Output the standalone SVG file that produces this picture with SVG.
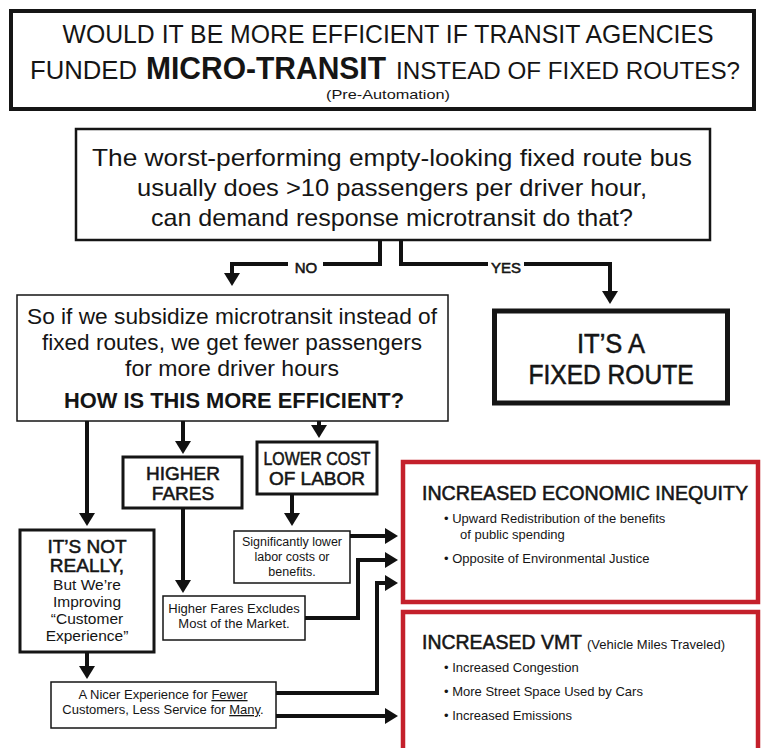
<svg xmlns="http://www.w3.org/2000/svg" width="761" height="748" viewBox="0 0 761 748">
<style>
text{font-family:"Liberation Sans",Arial,sans-serif;fill:#151515}
.c{text-anchor:middle}
.m{stroke:#151515;stroke-width:0.55}
.box{fill:#fff;stroke:#151515}
.red{fill:#fff;stroke:#c4202b;stroke-width:4.5}
.ln{fill:none;stroke:#111;stroke-width:4;stroke-linejoin:miter}
.u{text-decoration:underline}
</style>
<defs>
<marker id="ah" markerUnits="userSpaceOnUse" markerWidth="14" markerHeight="16" viewBox="0 0 14 16" refX="4" refY="8" orient="auto">
<path d="M0,0 L13,8 L0,16 z" fill="#111"/>
</marker>
</defs>
<rect width="761" height="748" fill="#fff"/>

<g id="title">
<rect class="box" x="11" y="11" width="743" height="98" stroke-width="4"/>
<text class="c" x="388" y="43" font-size="26" textLength="651" lengthAdjust="spacingAndGlyphs">WOULD IT BE MORE EFFICIENT IF TRANSIT AGENCIES</text>
<text x="30" y="79" font-size="26" textLength="107" lengthAdjust="spacingAndGlyphs">FUNDED</text>
<text x="146" y="79" font-size="31" font-weight="bold" textLength="240" lengthAdjust="spacingAndGlyphs">MICRO-TRANSIT</text>
<text x="396" y="79" font-size="24" textLength="344" lengthAdjust="spacingAndGlyphs">INSTEAD OF FIXED ROUTES?</text>
<text class="c" x="388" y="99" font-size="13" textLength="124" lengthAdjust="spacingAndGlyphs">(Pre-Automation)</text>
</g>

<g id="question">
<rect class="box" x="76" y="129" width="634" height="111" stroke-width="2.5"/>
<text class="c" x="392" y="166" font-size="24" textLength="600" lengthAdjust="spacingAndGlyphs">The worst-performing empty-looking fixed route bus</text>
<text class="c" x="392" y="196" font-size="24" textLength="510" lengthAdjust="spacingAndGlyphs">usually does &gt;10 passengers per driver hour,</text>
<text class="c" x="392" y="226" font-size="24" textLength="482" lengthAdjust="spacingAndGlyphs">can demand response microtransit do that?</text>
</g>

<g id="so-if">
<rect class="box" x="17" y="295" width="431" height="126" stroke-width="1.5"/>
<text class="c" x="232" y="324" font-size="22" textLength="410" lengthAdjust="spacingAndGlyphs">So if we subsidize microtransit instead of</text>
<text class="c" x="232" y="350" font-size="22" textLength="380" lengthAdjust="spacingAndGlyphs">fixed routes, we get fewer passengers</text>
<text class="c" x="232" y="376" font-size="22" textLength="214" lengthAdjust="spacingAndGlyphs">for more driver hours</text>
<text class="c" x="234" y="408" font-size="22" font-weight="bold" textLength="340" lengthAdjust="spacingAndGlyphs">HOW IS THIS MORE EFFICIENT?</text>
</g>

<g id="fixed-route">
<rect class="box" x="494.5" y="311" width="233" height="92" stroke-width="5"/>
<text class="c m" x="611" y="353" font-size="28" textLength="68" lengthAdjust="spacingAndGlyphs">IT’S A</text>
<text class="c m" x="611" y="384" font-size="28" textLength="165" lengthAdjust="spacingAndGlyphs">FIXED ROUTE</text>
</g>

<g id="not-really">
<rect class="box" x="20" y="530" width="134" height="122" stroke-width="3"/>
<text class="c m" x="87" y="553" font-size="19">IT’S NOT</text>
<text class="c m" x="87" y="572" font-size="19">REALLY,</text>
<text class="c" x="87" y="590" font-size="15.5">But We’re</text>
<text class="c" x="87" y="607" font-size="15.5">Improving</text>
<text class="c" x="87" y="624" font-size="15.5">“Customer</text>
<text class="c" x="87" y="641" font-size="15.5">Experience”</text>
</g>

<g id="higher-fares">
<rect class="box" x="123" y="457" width="119" height="51" stroke-width="3"/>
<text class="c m" x="183" y="480" font-size="19">HIGHER</text>
<text class="c m" x="183" y="500" font-size="19">FARES</text>
</g>

<g id="lower-cost">
<rect class="box" x="257" y="442" width="120" height="52" stroke-width="3"/>
<text class="c m" x="317" y="465" font-size="19" textLength="107" lengthAdjust="spacingAndGlyphs">LOWER COST</text>
<text class="c m" x="317" y="485" font-size="19">OF LABOR</text>
</g>

<g id="lower-labor">
<rect class="box" x="234" y="531" width="116" height="52" stroke-width="1.5"/>
<text class="c" x="292" y="546" font-size="12.5">Significantly lower</text>
<text class="c" x="292" y="561" font-size="12.5">labor costs or</text>
<text class="c" x="292" y="576" font-size="12.5">benefits.</text>
</g>

<g id="fares-exclude">
<rect class="box" x="163" y="596" width="142" height="44" stroke-width="1.5"/>
<text class="c" x="234" y="613" font-size="13">Higher Fares Excludes</text>
<text class="c" x="234" y="628" font-size="13">Most of the Market.</text>
</g>

<g id="nicer">
<rect class="box" x="51" y="682" width="225" height="46" stroke-width="1.5"/>
<text class="c" x="163" y="699" font-size="13">A Nicer Experience for <tspan class="u">Fewer</tspan></text>
<text class="c" x="163" y="714" font-size="13">Customers, Less Service for <tspan class="u">Many</tspan>.</text>
</g>

<g id="inequity">
<rect class="red" x="403" y="462" width="355" height="140"/>
<text class="m" x="422" y="500" font-size="20" textLength="326" lengthAdjust="spacingAndGlyphs">INCREASED ECONOMIC INEQUITY</text>
<text x="444" y="523" font-size="13">• Upward Redistribution of the benefits</text>
<text x="460" y="539" font-size="13">of public spending</text>
<text x="444" y="563" font-size="13">• Opposite of Environmental Justice</text>
</g>

<g id="vmt">
<rect class="red" x="403" y="612" width="355" height="160"/>
<text class="m" x="422" y="649" font-size="21"><tspan textLength="160" lengthAdjust="spacingAndGlyphs">INCREASED VMT</tspan></text>
<text x="587" y="649" font-size="13">(Vehicle Miles Traveled)</text>
<text x="444" y="672" font-size="13">• Increased Congestion</text>
<text x="444" y="696" font-size="13">• More Street Space Used by Cars</text>
<text x="444" y="720" font-size="13">• Increased Emissions</text>
</g>

<g id="connectors">
<path class="ln" d="M380,240 V264 H232 V277" marker-end="url(#ah)"/>
<path class="ln" d="M401,240 V264 H610 V295" marker-end="url(#ah)"/>
<rect x="288" y="256" width="35" height="16" fill="#fff"/>
<text class="c m" x="306" y="273" font-size="15" stroke-width="0.4">NO</text>
<rect x="488" y="256" width="36" height="16" fill="#fff"/>
<text class="c m" x="506" y="273" font-size="15" stroke-width="0.4">YES</text>
<path class="ln" d="M87,421 V517" marker-end="url(#ah)"/>
<path class="ln" d="M183,421 V445" marker-end="url(#ah)"/>
<path class="ln" d="M319,421 V429" marker-end="url(#ah)"/>
<path class="ln" d="M87,652 V670" marker-end="url(#ah)"/>
<path class="ln" d="M183,508 V584" marker-end="url(#ah)"/>
<path class="ln" d="M292,494 V517" marker-end="url(#ah)"/>
<path class="ln" d="M350,536 H389" marker-end="url(#ah)"/>
<path class="ln" d="M305,618 H358 V560 H389" marker-end="url(#ah)"/>
<path class="ln" d="M276,693 H377 V583 H389" marker-end="url(#ah)"/>
<path class="ln" d="M276,716 H389" marker-end="url(#ah)"/>
</g>
</svg>
